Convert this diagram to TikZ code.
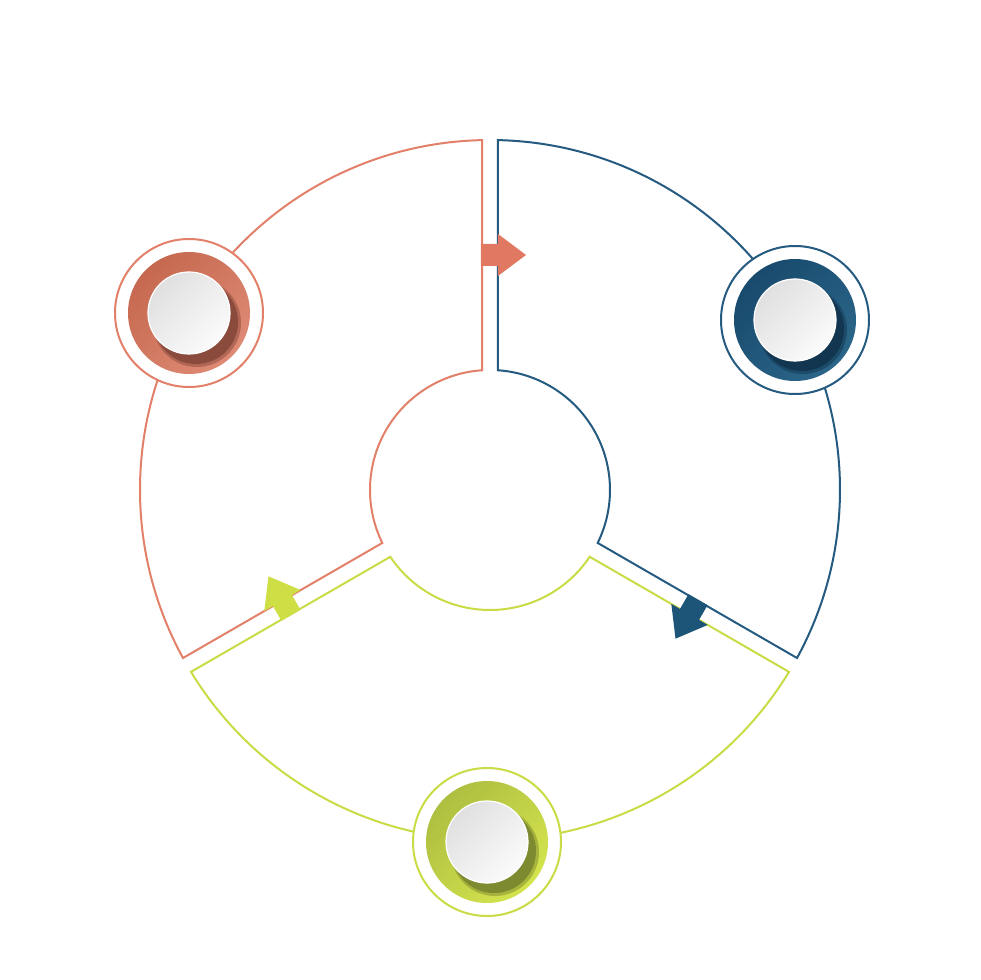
\documentclass[tikz,border=0pt]{standalone}
\usetikzlibrary{calc}
\definecolor{oLine}{HTML}{E2806A}
\definecolor{oArrow}{HTML}{E07862}
\definecolor{oDark}{HTML}{C6684F}
\definecolor{oLight}{HTML}{DE8A75}
\definecolor{oShadow}{HTML}{8A4A3C}
\definecolor{bLine}{HTML}{255B80}
\definecolor{bArrow}{HTML}{1C5578}
\definecolor{bDark}{HTML}{184A6D}
\definecolor{bLight}{HTML}{2B6689}
\definecolor{bShadow}{HTML}{123550}
\definecolor{gLine}{HTML}{C9DC45}
\definecolor{gArrow}{HTML}{CEDE45}
\definecolor{gDark}{HTML}{AEBE40}
\definecolor{gLight}{HTML}{D4E44E}
\definecolor{gShadow}{HTML}{7E8A2F}
\definecolor{wDark}{HTML}{E0E0E0}
\definecolor{wLight}{HTML}{FBFBFB}
\tikzset{
  seg/.style={line width=2pt, line join=miter},
  ringline/.style={line width=2pt, fill=white},
}
\newcommand\mymarker[6]{%
  \coordinate (#1) at #2;
  \draw[ringline, draw=#3] (#1) circle[radius=74pt];
  \shade[top color=#4, bottom color=#5, shading angle=45] (#1) circle[radius=61pt];
  \begin{scope}
    \clip (#1) circle[radius=61pt];
    \fill[#6, opacity=0.5] ($(#1)+(8,-10)$) circle[radius=44pt];
    \fill[#6] ($(#1)+(7,-9)$) circle[radius=42pt];
  \end{scope}
  \shade[top color=wDark, bottom color=wLight, shading angle=45, draw=white, line width=1.2pt] (#1) circle[radius=41pt];
}
\newcommand\gaparrow[2]{%
  \begin{scope}[shift={(#1:235)}, rotate=#1-90]
    \fill[#2] (-9,-11) -- (8,-11) -- (8,-21) -- (36,0) -- (8,21) -- (8,11) -- (-9,11) -- cycle;
  \end{scope}}
\begin{document}
\begin{tikzpicture}[x=1pt,y=1pt]
\useasboundingbox[fill=white] (-490,-490) rectangle (490,490);
\coordinate (c) at (0,0);
% segments
\draw[seg, draw=oLine] (91.31:350) arc[start angle=91.31, end angle=208.69, radius=350pt]
  -- (206.18:120) arc[start angle=206.18, end angle=93.82, radius=120pt] -- cycle;
\draw[seg, draw=bLine] (88.69:350) arc[start angle=88.69, end angle=-28.69, radius=350pt]
  -- (-26.18:120) arc[start angle=-26.18, end angle=86.18, radius=120pt] -- cycle;
\draw[seg, draw=gLine] (-31.31:350) arc[start angle=-31.31, end angle=-148.69, radius=350pt]
  -- (-146.18:120) arc[start angle=-146.18, end angle=-33.82, radius=120pt] -- cycle;
% arrows
\gaparrow{90}{oArrow}
\gaparrow{-30}{bArrow}
\gaparrow{210}{gArrow}
% markers
\mymarker{mo}{(-301,177)}{oLine}{oDark}{oLight}{oShadow}
\mymarker{mb}{(305,170)}{bLine}{bDark}{bLight}{bShadow}
\mymarker{mg}{(-3,-352)}{gLine}{gDark}{gLight}{gShadow}
\end{tikzpicture}
\end{document}
